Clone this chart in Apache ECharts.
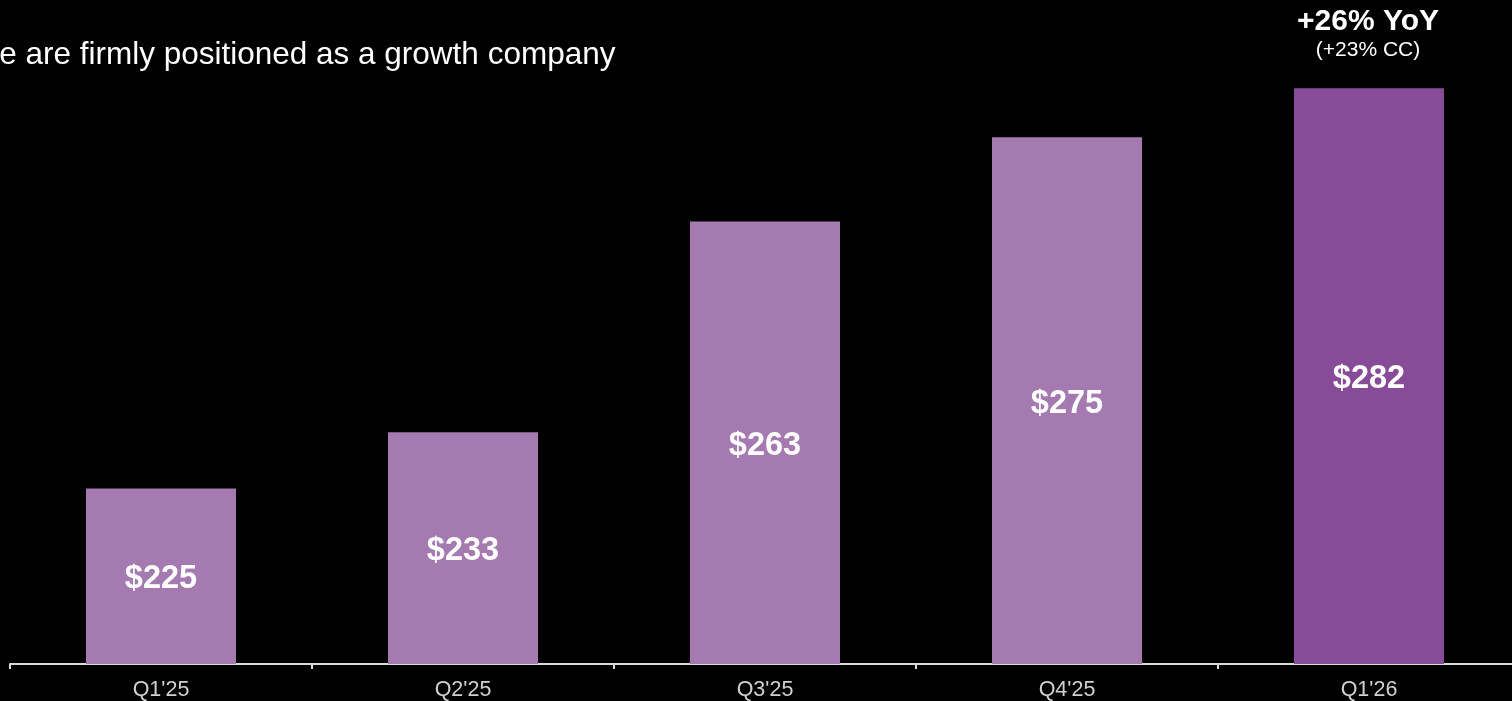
<!DOCTYPE html>
<html>
<head>
<meta charset="utf-8">
<script src="https://cdn.jsdelivr.net/npm/echarts@6/dist/echarts.min.js"></script>
<style>
  html, body { margin: 0; padding: 0; background: #000; overflow: hidden; }
  #chart { width: 1520px; height: 701px; }
</style>
</head>
<body>
<div id="chart"></div>
<script>
// Quarterly revenue ($M)
const quarters = ["Q1'25", "Q2'25", "Q3'25", "Q4'25", "Q1'26"];
const revenue = [225, 233, 263, 275, 282];
const barColors = ['#a47ab1', '#a47ab1', '#a47ab1', '#a47ab1', '#874c98'];
const headline = 'We are firmly positioned as a growth company';
const growthMain = '+26% YoY';
const growthSub = '(+23% CC)';

const chart = echarts.init(document.getElementById('chart'));
const font = '"Liberation Sans", Arial, sans-serif';

chart.setOption({
  backgroundColor: '#000',
  animation: false,
  grid: { left: 10, top: 32, right: 0, bottom: 36, containLabel: false },
  xAxis: {
    type: 'category',
    data: quarters,
    axisLine: { lineStyle: { color: '#d9d9d9', width: 2 } },
    axisTick: { show: true, length: 5, lineStyle: { color: '#d9d9d9', width: 2 } },
    axisLabel: { color: '#d0d0d0', fontSize: 21.5, fontFamily: font, margin: 15 }
  },
  yAxis: {
    type: 'value',
    min: 200,
    max: 290,
    show: false,
    splitLine: { show: false }
  },
  series: [{
    type: 'bar',
    barWidth: 150,
    data: revenue.map((v, i) => ({ value: v, itemStyle: { color: barColors[i] } })),
    label: {
      show: true,
      position: 'inside',
      offset: [0, 3],
      formatter: p => '$' + p.value,
      color: '#fff',
      fontSize: 32.5,
      fontWeight: 'bold',
      fontFamily: font
    }
  }],
  graphic: [
    {
      type: 'text',
      left: -30,
      top: 39,
      style: { text: headline, fill: '#fff', font: '31.5px ' + font }
    },
    {
      type: 'text',
      x: 1368,
      y: 22,
      style: { text: growthMain, fill: '#fff', font: 'bold 30px ' + font, textAlign: 'center', textVerticalAlign: 'middle' }
    },
    {
      type: 'text',
      x: 1368,
      y: 50,
      style: { text: growthSub, fill: '#fff', font: '21px ' + font, textAlign: 'center', textVerticalAlign: 'middle' }
    }
  ]
});
</script>
</body>
</html>
